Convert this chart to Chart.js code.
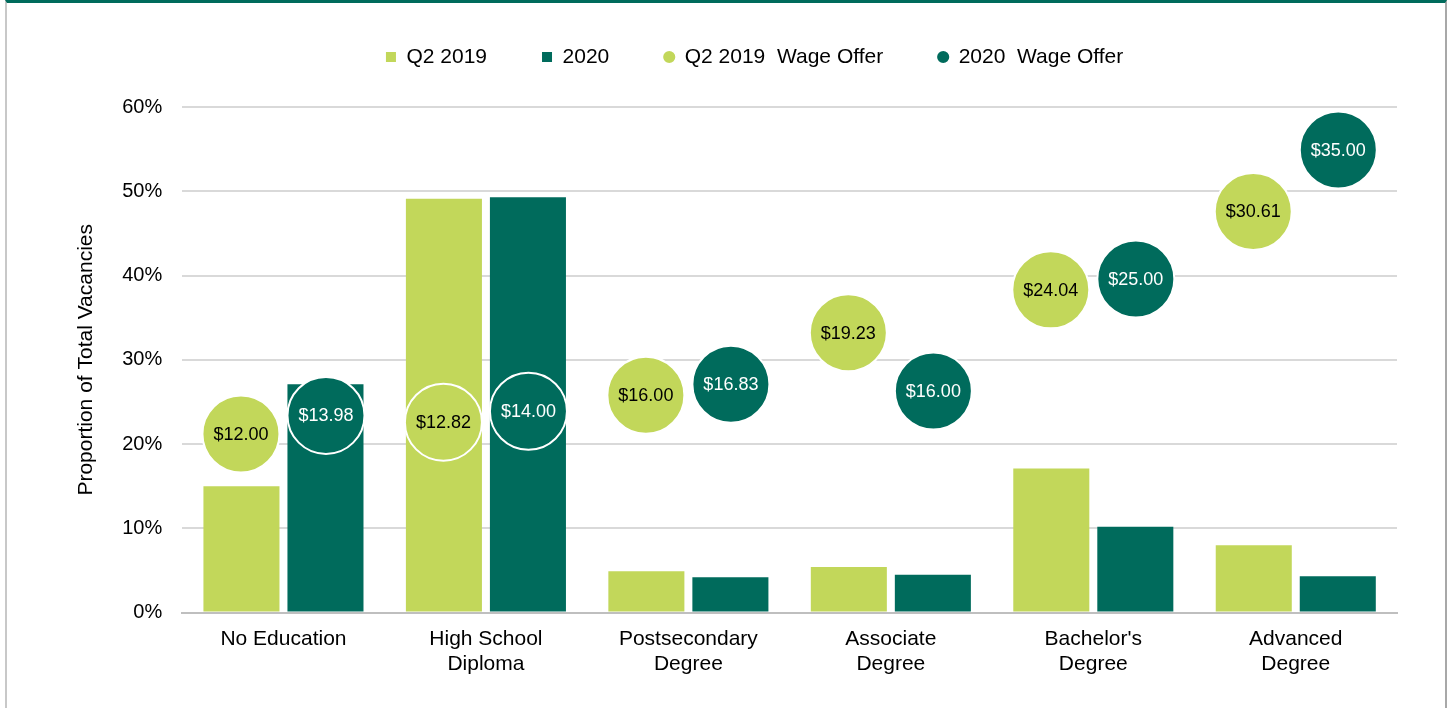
<!DOCTYPE html>
<html lang="en">
<head>
<meta charset="UTF-8">
<title>Vacancies and Wage Offers by Education</title>
<script src="https://cdn.jsdelivr.net/npm/chart.js"></script>
<style>
  html, body { margin: 0; padding: 0; background: #fff; }
  .frame {
    position: absolute; left: 5px; top: 0; width: 1442px; height: 708px;
    box-sizing: border-box;
    border-top: 3px solid #006b5c;
    border-left: 2px solid #c8c8c8;
    border-right: 2px solid #a8a8a8;
  }
  #vacancyChart { position: absolute; left: 0; top: 0; }
</style>
</head>
<body>
<div class="frame"></div>
<canvas id="vacancyChart" width="1449" height="708"></canvas>
<script>
// education levels
const categories = [
  'No Education',
  ['High School', 'Diploma'],
  ['Postsecondary', 'Degree'],
  ['Associate', 'Degree'],
  ["Bachelor's", 'Degree'],
  ['Advanced', 'Degree']
];

// proportion of total vacancies (%)
const vacanciesQ2 = [15.0, 49.1, 4.9, 5.4, 17.1, 8.0];
const vacancies2020 = [27.1, 49.3, 4.2, 4.5, 10.2, 4.3];

// median wage offer ($/hr), shown inside the circles
const wageQ2 = [12.00, 12.82, 16.00, 19.23, 24.04, 30.61];
const wage2020 = [13.98, 14.00, 16.83, 16.00, 25.00, 35.00];

// where each wage circle sits on the vacancy axis (%)
const wageQ2Level = [21.2, 22.6, 25.8, 33.2, 38.3, 47.6];
const wage2020Level = [23.4, 23.9, 27.1, 26.3, 39.6, 54.9];

const yTicks = [0, 10, 20, 30, 40, 50, 60];

const LIGHT = '#c2d75a';
const DARK = '#006b5c';
const FONT = '"Liberation Sans", Arial, sans-serif';
const SHIFT = 0.21; // circles sit over their own bar

// everything shares one x axis: category i sits at x = i
const toBars = values => values.map((y, i) => ({ x: i, y: y }));
const toPoints = (levels, side) => levels.map((y, i) => ({ x: i + side * SHIFT, y: y }));

// write the wage inside each circle
const wageLabels = {
  id: 'wageLabels',
  afterDatasetsDraw(chart) {
    const ctx = chart.ctx;
    ctx.save();
    ctx.font = '18px ' + FONT;
    ctx.textAlign = 'center';
    ctx.textBaseline = 'middle';
    chart.data.datasets.forEach((ds, i) => {
      if (!ds.wages) return;
      ctx.fillStyle = ds.labelColor;
      chart.getDatasetMeta(i).data.forEach((pt, j) => {
        ctx.fillText('$' + ds.wages[j].toFixed(2), pt.x, pt.y + 1);
      });
    });
    ctx.restore();
  }
};

// put the legend where the original has it
const legendNudge = {
  id: 'legendNudge',
  afterLayout(chart) {
    const lg = chart.legend;
    const h = lg.bottom - lg.top;
    lg.left -= 35; lg.right -= 35;
    lg.top = -8.5; lg.bottom = lg.top + h;
  }
};

new Chart(document.getElementById('vacancyChart'), {
  data: {
    datasets: [
      {
        type: 'bar', label: 'Q2 2019', data: toBars(vacanciesQ2),
        backgroundColor: LIGHT, pointStyle: 'rect', order: 1,
        categoryPercentage: 0.83, barPercentage: 0.905
      },
      {
        type: 'bar', label: '2020', data: toBars(vacancies2020),
        backgroundColor: DARK, pointStyle: 'rect', order: 1,
        categoryPercentage: 0.83, barPercentage: 0.905
      },
      {
        type: 'scatter', label: 'Q2 2019  Wage Offer',
        data: toPoints(wageQ2Level, -1), wages: wageQ2, labelColor: '#000',
        backgroundColor: LIGHT, borderColor: '#fff', borderWidth: 2,
        pointRadius: 38.5, pointHoverRadius: 38.5, pointStyle: 'circle', order: 0
      },
      {
        type: 'scatter', label: '2020  Wage Offer',
        data: toPoints(wage2020Level, 1), wages: wage2020, labelColor: '#fff',
        backgroundColor: DARK, borderColor: '#fff', borderWidth: 2,
        pointRadius: 38.5, pointHoverRadius: 38.5, pointStyle: 'circle', order: 0
      }
    ]
  },
  options: {
    responsive: false,
    animation: false,
    events: [],
    layout: { padding: { top: 0, left: 74, right: 52, bottom: 17 } },
    plugins: {
      tooltip: { enabled: false },
      legend: {
        position: 'top',
        fullSize: false,
        labels: {
          usePointStyle: true,
          boxWidth: 10, boxHeight: 10,
          padding: 55,
          color: '#000',
          font: { family: FONT, size: 21 },
          sort: (a, b) => a.datasetIndex - b.datasetIndex
        }
      }
    },
    scales: {
      x: {
        type: 'linear',
        offset: false,
        min: -0.5, max: 5.5,
        afterBuildTicks: axis => { axis.ticks = categories.map((c, i) => ({ value: i })); },
        grid: { display: false, drawTicks: false },
        border: { color: '#bfbfbf', width: 2 },
        ticks: {
          color: '#000', padding: 14, maxRotation: 0, autoSkip: false,
          font: { family: FONT, size: 21 },
          callback: v => categories[v]
        }
      },
      y: {
        min: 0, max: 60,
        afterBuildTicks: axis => { axis.ticks = yTicks.map(v => ({ value: v })); },
        afterFit: axis => { axis.paddingTop = 107; },
        grid: { color: '#d9d9d9', lineWidth: 2, drawTicks: false },
        border: { display: false },
        ticks: {
          color: '#000', padding: 20,
          font: { family: FONT, size: 20 },
          callback: v => v + '%'
        },
        title: {
          display: true, text: 'Proportion of Total Vacancies', color: '#000',
          font: { family: FONT, size: 21 },
          padding: { top: 0, bottom: 3 }
        }
      }
    }
  },
  plugins: [wageLabels, legendNudge]
});
</script>
</body>
</html>
